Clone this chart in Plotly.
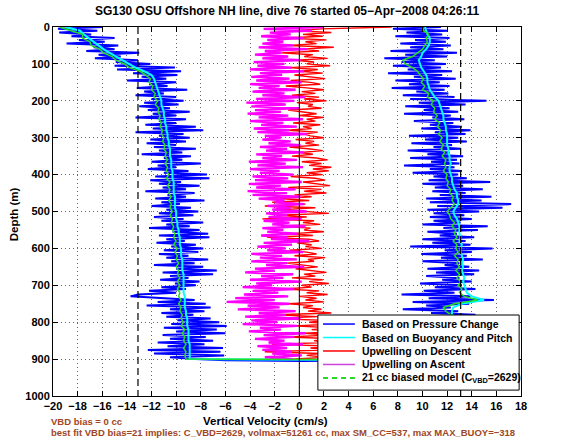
import plotly.graph_objects as go

# ---------------- data ----------------
DEPTH_5 = list(range(0, 905, 5))      # 0..900 m every 5 m (descent order)
DEPTH_10 = list(range(0, 910, 10))    # 0..900 m every 10 m (descent order)

# Vertical velocity based on pressure change (cm/s), descent, depth 0 -> 900
BLUE_DESC = [
    -16.0, -19.6, -16.4, -19.5, -16.9, -18.5, -15.0, -17.9, -15.8, -18.9,
    -14.7, -16.7, -15.0, -17.3, -13.0, -16.3, -14.5, -16.6, -13.1, -14.9,
    -12.1, -15.0, -10.1, -14.8, -9.6, -13.5, -9.9, -12.8, -10.8, -14.0,
    -10.0, -12.2, -10.7, -13.2, -9.1, -12.6, -11.0, -13.3, -10.0, -12.0,
    -9.4, -12.6, -9.8, -13.0, -10.5, -12.3, -8.9, -11.9, -10.0, -13.3,
    -9.2, -11.4, -10.0, -12.5, -8.4, -11.9, -7.8, -13.3, -9.4, -11.4,
    -8.9, -12.1, -9.2, -12.4, -10.0, -11.8, -8.4, -11.4, -9.5, -12.8,
    -8.8, -11.0, -9.5, -12.0, -8.0, -11.5, -10.0, -12.3, -9.0, -11.0,
    -7.5, -11.7, -7.3, -12.1, -9.6, -11.4, -8.1, -11.1, -9.2, -12.5,
    -8.5, -10.7, -9.2, -11.7, -7.7, -11.2, -9.7, -12.0, -8.8, -10.8,
    -8.2, -11.4, -8.6, -11.8, -9.4, -11.2, -7.8, -10.8, -8.9, -12.2,
    -8.1, -10.3, -7.4, -11.4, -7.3, -10.8, -9.3, -11.6, -8.4, -10.4,
    -7.8, -11.0, -8.2, -11.4, -9.0, -10.8, -7.4, -10.4, -8.5, -11.8,
    -7.8, -10.0, -6.7, -11.1, -7.0, -10.5, -9.0, -11.3, -8.1, -10.1,
    -8.4, -11.2, -9.2, -12.2, -10.0, -13.1, -13.7, -10.8, -8.5, -11.5,
    -7.6, -12.4, -7.2, -10.5, -7.7, -11.2, -8.6, -10.8, -7.2, -9.9,
    -6.5, -10.4, -5.9, -11.0, -6.7, -10.0, -6.0, -11.1, -7.6, -10.5,
    -7.0, -11.5, -7.7, -10.7, -6.2, -12.3, -6.4, -11.8, -6.1, -10.5,
    -8.4,
]
# turn-around at the bottom of the dive
BLUE_BOTTOM_X = [-6.0, 0.3]
BLUE_BOTTOM_DEPTH = [903, 905]
# ascent, depth 900 -> 0
BLUE_ASC = [
    14.2, 10.1, 13.0, 10.8, 14.8, 11.2, 13.4, 9.5, 13.6, 11.5,
    12.9, 10.1, 14.2, 10.7, 12.5, 9.6, 13.5, 11.1, 13.9, 10.2,
    13.7, 9.6, 12.5, 10.3, 14.3, 10.7, 12.9, 8.4, 12.3, 10.3,
    13.8, 9.2, 15.8, 10.5, 13.9, 8.3, 12.6, 10.1, 14.3, 11.0,
    13.2, 9.8, 14.0, 11.6, 13.0, 10.3, 14.2, 11.1, 14.6, 10.4,
    13.8, 11.8, 13.0, 10.0, 14.9, 11.5, 13.6, 9.9, 14.0, 11.8,
    15.7, 9.0, 13.9, 10.8, 13.5, 10.0, 14.2, 11.4, 12.8, 10.4,
    14.5, 11.7, 15.3, 10.0, 13.1, 10.9, 14.0, 10.6, 13.4, 10.9,
    14.6, 10.4, 16.5, 11.2, 17.2, 10.6, 14.8, 10.3, 15.6, 11.4,
    13.5, 10.8, 14.9, 11.0, 13.3, 10.0, 15.5, 10.5, 13.6, 10.9,
    12.9, 9.2, 13.2, 10.6, 12.6, 8.5, 13.0, 10.7, 12.8, 9.0,
    13.3, 10.4, 12.2, 8.8, 13.1, 10.9, 12.4, 9.1, 13.6, 10.2,
    12.9, 8.9, 13.5, 11.0, 13.9, 9.9, 13.2, 10.6, 12.5, 9.3,
    13.4, 10.8, 12.3, 8.5, 12.9, 10.1, 12.2, 8.6, 13.5, 9.7,
    15.2, 9.0, 12.6, 8.4, 12.1, 9.5, 11.8, 7.5, 12.2, 8.9,
    11.4, 7.8, 12.7, 9.3, 11.6, 7.2, 12.4, 8.8, 11.5, 7.6,
    11.9, 8.3, 11.0, 6.9, 12.0, 8.6, 12.8, 7.4, 11.7, 9.0,
    12.3, 8.2, 11.9, 9.4, 12.2, 7.8, 11.6, 8.7, 12.0, 7.6,
    11.5,
]

# Based on buoyancy and pitch (cm/s), every 10 m
CYAN_DESC = [
    -19.0, -17.8, -17.5, -17.1, -16.8, -16.4, -15.9, -15.4, -14.9, -14.4,
    -13.9, -13.3, -12.6, -12.0, -11.8, -11.7, -11.6, -11.5, -11.4, -11.3,
    -11.2, -11.2, -11.1, -11.0, -11.0, -10.9, -10.9, -10.8, -10.8, -10.7,
    -10.7, -10.6, -10.6, -10.5, -10.5, -10.5, -10.4, -10.4, -10.4, -10.3,
    -10.3, -10.3, -10.2, -10.2, -10.2, -10.2, -10.1, -10.1, -10.1, -10.1,
    -10.0, -10.0, -10.0, -9.9, -9.9, -9.8, -9.8, -9.7, -9.7, -9.7,
    -9.6, -9.6, -9.6, -9.5, -9.5, -9.5, -9.5, -9.4, -9.4, -9.4,
    -9.4, -9.4, -9.4, -9.3, -9.3, -9.3, -9.3, -9.2, -9.2, -9.1,
    -9.1, -9.1, -9.0, -9.0, -9.0, -9.0, -8.9, -8.9, -8.9, -8.9,
    -8.9,
]
CYAN_BOTTOM_X = [2.0]
CYAN_BOTTOM_DEPTH = [902]
CYAN_ASC = [
    13.0, 13.0, 12.9, 12.9, 12.8, 12.8, 12.7, 12.7, 12.6, 12.6,
    12.5, 12.5, 12.4, 12.4, 12.5, 13.2, 15.0, 14.0, 13.6, 13.5,
    13.4, 13.3, 13.4, 13.3, 13.2, 13.3, 13.2, 13.3, 13.2, 13.1,
    13.1, 13.2, 13.0, 13.1, 13.0, 13.0, 13.0, 12.9, 12.8, 12.6,
    12.5, 12.7, 12.9, 12.9, 12.8, 12.8, 12.6, 12.5, 12.4, 12.4,
    12.3, 12.2, 12.2, 12.3, 12.2, 12.2, 12.1, 12.1, 12.0, 12.0,
    12.0, 12.0, 11.9, 11.9, 11.8, 11.7, 11.7, 11.6, 11.5, 11.4,
    11.3, 11.0, 10.8, 10.6, 10.5, 10.4, 10.4, 10.3, 10.1, 9.9,
    9.8, 9.7, 9.9, 10.0, 10.3, 10.5, 10.6, 10.6, 10.4, 10.3,
    10.2,
]

# Upwelling on descent (cm/s), depth 0 -> 900
RED_DESC = [
    7.5, 1.8, -0.5, 2.6, 0.3, 1.9, -1.2, 2.2, 0.5, 1.4,
    -0.8, 2.8, 0.2, 1.6, -1.5, 1.1, 0.4, 2.3, -0.3, 1.2,
    0.6, 2.5, -0.9, 1.5, 0.1, 1.9, -0.4, 1.0, 2.1, -0.7,
    0.9, 1.7, -1.1, 0.6, 2.0, 0.2, 1.3, -0.6, 1.6, 0.4,
    2.2, -0.2, 1.1, 0.7, 1.8, -0.9, 0.5, 1.4, 0.0, 2.0,
    0.6, 1.3, -0.5, 1.7, 0.3, 1.0, -1.0, 1.5, 0.4, 0.9,
    2.0, -0.3, 1.2, 0.5, 1.6, -0.8, 0.7, 1.9, 0.1, 1.1,
    -0.6, 1.4, 2.3, 0.2, 1.8, 0.8, 2.6, 1.1, 2.4, 0.6,
    1.9, -0.7, 1.3, 2.1, 0.3, 1.5, 2.5, -0.9, 1.8, 0.4,
    2.2, -0.4, 1.0, -1.6, 0.8, -2.2, 0.5, -2.8, 1.3, -1.3,
    0.9, 2.4, -1.8, 0.6, -3.0, 1.2, 0.3, 1.7, -1.5, 0.9,
    0.4, 2.0, -0.6, 1.1, -2.6, 0.8, 1.6, -0.2, 1.0, 0.5,
    1.8, -0.8, 0.6, 1.4, -0.4, 2.1, 0.7, 1.2, -1.0, 0.5,
    1.5, -0.3, 0.9, 2.2, 0.4, 1.3, -0.6, 1.9, 0.8, 2.4,
    0.2, 1.0, -1.2, 1.6, 0.6, 2.3, 0.0, 1.4, 0.5, 2.0,
    -0.9, 1.1, 0.3, 1.8, 0.7, 2.6, -1.8, 1.5, -2.4, 2.2,
    0.8, 3.2, -0.5, 2.7, 1.0, 3.5, 0.4, 2.4, -1.0, 3.0,
    1.2, 2.1, -2.2, 3.3, 0.9, 2.5, -2.8, 1.7, 0.6, 2.2,
    -0.5,
]

# Upwelling on ascent (cm/s), depth 900 -> 0
MAGENTA_ASC = [
    -0.5, -2.8, 0.2, -2.2, -0.6, -3.0, -1.0, -3.4, 0.3, -2.5,
    -1.2, -3.6, -0.4, -2.9, 0.5, -4.1, -1.5, -3.2, -0.2, -4.6,
    -1.8, -3.9, 0.1, -4.4, -1.1, -3.3, -0.3, -5.0, -1.6, -4.2,
    -0.8, -5.9, -2.0, -5.2, -0.9, -4.5, -1.7, -3.8, -0.4, -4.6,
    -2.2, -3.5, 0.2, -4.0, -1.3, -3.1, -0.5, -4.4, -2.0, -3.6,
    0.4, -2.7, -1.0, -3.9, -0.2, -3.2, -1.4, -3.9, 0.3, -2.6,
    -1.1, -3.4, -0.6, -2.9, 0.8, -2.3, -1.0, -3.1, -0.1, -2.6,
    -1.3, -3.0, 0.5, -2.2, -0.8, -2.9, 0.2, -2.5, -1.0, -2.7,
    0.6, -2.2, -0.7, -2.6, 0.4, -2.0, -1.2, -3.3, 0.1, -3.8,
    -1.0, -4.2, -0.3, -3.5, -1.5, -4.1, 0.2, -3.6, -0.9, -3.8,
    -0.5, -3.2, -1.6, -4.0, 0.3, -3.4, -1.1, -4.1, -0.2, -3.0,
    -1.4, -3.5, 0.4, -2.7, -1.0, -3.2, 0.1, -2.5, -0.7, -3.0,
    -1.5, -2.8, 0.6, -3.4, -0.8, -3.7, -0.2, -3.1, -1.3, -4.0,
    0.3, -3.3, -0.9, -4.2, -1.5, -3.6, 0.0, -3.9, -1.1, -4.3,
    -0.4, -3.5, 0.5, -3.0, -1.2, -3.8, -0.3, -3.3, -1.6, -4.0,
    0.2, -3.5, -0.8, -3.9, -1.4, -3.2, 0.4, -4.0, -0.6, -3.4,
    -1.2, -3.7, 0.1, -3.0, -0.9, -3.6, -1.5, -2.8, 0.6, -3.3,
    -0.5, -3.0, -1.3, -2.6, 0.3, -3.1, -0.7, -2.4, 1.0, -2.9,
    2.0,
]

# 21 cc biased model (cm/s), every 10 m
GREEN_DESC = [
    -19.5, -18.5, -17.6, -17.6, -17.0, -16.9, -16.2, -15.9, -15.2, -14.9,
    -14.2, -13.8, -12.9, -12.5, -12.1, -12.2, -11.9, -12.0, -11.7, -11.8,
    -11.5, -11.7, -11.4, -11.5, -11.3, -11.4, -11.2, -11.3, -11.1, -11.2,
    -11.0, -11.1, -10.9, -11.0, -10.8, -10.9, -10.7, -10.9, -10.7, -10.8,
    -10.6, -10.8, -10.5, -10.7, -10.5, -10.6, -10.4, -10.6, -10.4, -10.5,
    -10.3, -10.5, -10.3, -10.4, -10.2, -10.3, -10.1, -10.2, -10.0, -10.2,
    -9.9, -10.1, -9.9, -10.0, -9.8, -10.0, -9.8, -9.9, -9.7, -9.9,
    -9.7, -9.9, -9.7, -9.8, -9.6, -9.8, -9.6, -9.7, -9.5, -9.6,
    -9.4, -9.6, -9.3, -9.5, -9.3, -9.4, -9.2, -9.4, -9.2, -9.3,
    -9.2,
]
GREEN_BOTTOM_X = [1.0]
GREEN_BOTTOM_DEPTH = [901]
GREEN_ASC = [
    12.8, 12.6, 12.9, 12.5, 12.7, 12.4, 12.6, 12.3, 12.5, 12.2,
    12.4, 12.1, 12.3, 11.9, 11.7, 12.6, 14.5, 13.4, 13.0, 13.2,
    12.9, 13.1, 12.8, 13.0, 12.7, 13.0, 12.8, 12.9, 12.6, 12.9,
    12.7, 12.8, 12.5, 12.8, 12.6, 12.7, 12.4, 12.6, 12.3, 12.2,
    12.0, 12.3, 12.6, 12.4, 12.5, 12.2, 12.3, 12.0, 12.1, 11.9,
    12.0, 11.7, 11.9, 11.8, 11.9, 11.6, 11.8, 11.5, 11.7, 11.4,
    11.6, 11.3, 11.5, 11.2, 11.4, 11.0, 11.2, 10.9, 11.0, 10.7,
    10.9, 10.4, 10.5, 10.0, 10.2, 9.9, 10.1, 9.8, 9.6, 9.2,
    8.6, 8.4, 9.2, 9.6, 10.0, 10.2, 10.4, 10.3, 10.5, 10.1,
    10.0,
]

LIMIT_VELOCITIES = [-13.1, 13.1]   # dashed reference lines
DEPTH_RANGE = [0, 1000]

X_TICKS = list(range(-20, 19, 2))
Y_TICKS = list(range(0, 1001, 100))

TITLE = "SG130 OSU Offshore NH line, dive 76 started 05\u2212Apr\u22122008 04:26:11"
LEGEND_LABELS = [
    "Based on Pressure Change",
    "Based on Buoyancy and Pitch",
    "Upwelling on Descent",
    "Upwelling on Ascent",
    "21 cc biased model (C<sub>VBD</sub>=2629)",
]
NOTE1 = "VBD bias = 0 cc"
NOTE2 = ("best fit VBD bias=21 implies: C_VBD=2629, volmax=51261 cc, "
         "max SM_CC=537, max MAX_BUOY=\u2212318")

# ---------------- styling ----------------
FONT = "Liberation Sans, Arial, Helvetica, sans-serif"
C_BLUE = "#0000FF"
C_CYAN = "#00FFFF"
C_RED = "#FF0000"
C_MAG = "#FF00FF"
C_GREEN = "#22DD22"
BROWN = "#A0461E"

asc5 = DEPTH_5[::-1]
asc10 = DEPTH_10[::-1]

fig = go.Figure()
fig.add_trace(go.Scatter(
    x=BLUE_DESC + BLUE_BOTTOM_X + BLUE_ASC,
    y=DEPTH_5 + BLUE_BOTTOM_DEPTH + asc5,
    mode="lines", line=dict(color=C_BLUE, width=2), name=LEGEND_LABELS[0]))
fig.add_trace(go.Scatter(
    x=CYAN_DESC + CYAN_BOTTOM_X + CYAN_ASC,
    y=DEPTH_10 + CYAN_BOTTOM_DEPTH + asc10,
    mode="lines", line=dict(color=C_CYAN, width=2), name=LEGEND_LABELS[1]))
fig.add_trace(go.Scatter(
    x=RED_DESC, y=DEPTH_5,
    mode="lines", line=dict(color=C_RED, width=1.4), name=LEGEND_LABELS[2]))
fig.add_trace(go.Scatter(
    x=MAGENTA_ASC, y=asc5,
    mode="lines", line=dict(color=C_MAG, width=2.3), name=LEGEND_LABELS[3]))
fig.add_trace(go.Scatter(
    x=GREEN_DESC + GREEN_BOTTOM_X + GREEN_ASC,
    y=DEPTH_10 + GREEN_BOTTOM_DEPTH + asc10,
    mode="lines", line=dict(color=C_GREEN, width=1.5), name=LEGEND_LABELS[4]))
fig.add_trace(go.Scatter(
    x=[0, 0], y=DEPTH_RANGE, mode="lines",
    line=dict(color="black", width=1), showlegend=False))
for v in LIMIT_VELOCITIES:
    fig.add_trace(go.Scatter(
        x=[v, v], y=DEPTH_RANGE, mode="lines",
        line=dict(color="black", width=1.2, dash="7px,4px"), showlegend=False))

axis_common = dict(
    showline=True, linecolor="black", linewidth=1, mirror="ticks",
    ticks="inside", ticklen=5, tickcolor="black", tickwidth=1,
    showgrid=True, gridcolor="#666666", gridwidth=1, griddash="1px,3px",
    zeroline=False,
    tickfont=dict(family=FONT, size=11, color="black", weight="bold"),
)
fig.update_xaxes(range=[-20, 18], tickvals=X_TICKS, **axis_common)
fig.update_yaxes(range=[1000, 0], tickvals=Y_TICKS, **axis_common)

# ---------- legend box (drawn in paper coordinates) ----------
shapes = [dict(type="rect", xref="paper", yref="paper",
               x0=0.566, x1=0.996, y0=0.016, y1=0.2195,
               fillcolor="white", line=dict(color="black", width=1))]
annotations = []
leg_y = [0.195, 0.1585, 0.122, 0.0854, 0.0488]
leg_colors = [C_BLUE, C_CYAN, C_RED, "#CC44DD", C_GREEN]
for i, (yy, col, lab) in enumerate(zip(leg_y, leg_colors, LEGEND_LABELS)):
    shapes.append(dict(type="line", xref="paper", yref="paper",
                       x0=0.577, x1=0.645, y0=yy, y1=yy,
                       line=dict(color=col, width=1.5 if i < 4 else 2,
                                 dash="solid" if i < 4 else "5px,4px")))
    annotations.append(dict(xref="paper", yref="paper", x=0.656, y=yy,
                            text=lab, showarrow=False, xanchor="left",
                            yanchor="middle",
                            font=dict(family=FONT, size=10.5, color="black",
                                      weight="bold")))

annotations += [
    dict(xref="paper", yref="paper", x=0.453, y=-0.068,
         text="Vertical Velocity (cm/s)", showarrow=False,
         xanchor="center", yanchor="middle",
         font=dict(family=FONT, size=11.5, color="black", weight="bold")),
    dict(xref="paper", yref="paper", x=-0.083, y=0.493,
         text="Depth (m)", showarrow=False, textangle=-90,
         xanchor="center", yanchor="middle",
         font=dict(family=FONT, size=11.5, color="black", weight="bold")),
    dict(xref="paper", yref="paper", x=-0.009, y=-0.068,
         text=NOTE1, showarrow=False, xanchor="left", yanchor="middle",
         font=dict(family=FONT, size=9.5, color=BROWN, weight="bold")),
    dict(xref="paper", yref="paper", x=-0.009, y=-0.1,
         text=NOTE2, showarrow=False, xanchor="left", yanchor="middle",
         font=dict(family=FONT, size=9.5, color=BROWN, weight="bold")),
]

fig.update_layout(
    width=568, height=442,
    margin=dict(l=53, r=47, t=27, b=46),
    paper_bgcolor="white", plot_bgcolor="white",
    showlegend=False,
    title=dict(text=TITLE, x=0.5, xref="paper", xanchor="center",
               y=0.975, yref="container", yanchor="middle",
               font=dict(family=FONT, size=12, color="black", weight="bold")),
    shapes=shapes, annotations=annotations,
)

# remove the default 8px page margin so the figure fills the window exactly
fig.write_html("out.html",
               config={"displayModeBar": False},
               post_script="document.body.style.margin='0';"
                           "document.body.style.overflow='hidden';")
